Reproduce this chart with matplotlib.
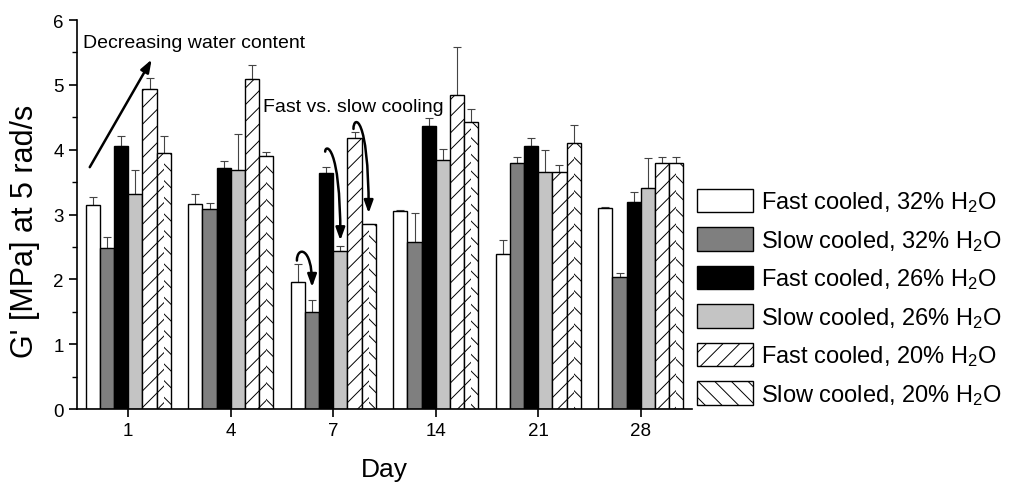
import numpy as np
import matplotlib
matplotlib.use("Agg")
import matplotlib.pyplot as plt
import matplotlib.patches as mpatches
from matplotlib.path import Path

plt.rcParams['font.family'] = ['Liberation Sans', 'DejaVu Sans']
plt.rcParams['mathtext.fontset'] = 'custom'
plt.rcParams['mathtext.rm'] = 'Liberation Sans'
plt.rcParams['mathtext.it'] = 'Liberation Sans:italic'
plt.rcParams['hatch.linewidth'] = 0.7

# data
days = ['1', '4', '7', '14', '21', '28']
labels = [r'Fast cooled, 32% H$_2$O', r'Slow cooled, 32% H$_2$O',
          r'Fast cooled, 26% H$_2$O', r'Slow cooled, 26% H$_2$O',
          r'Fast cooled, 20% H$_2$O', r'Slow cooled, 20% H$_2$O']

fast32 = [3.14, 3.16, 1.96, 3.06, 2.39, 3.10]
slow32 = [2.49, 3.08, 1.49, 2.58, 3.79, 2.03]
fast26 = [4.06, 3.71, 3.64, 4.36, 4.06, 3.20]
slow26 = [3.31, 3.68, 2.43, 3.84, 3.65, 3.41]
fast20 = [4.93, 5.09, 4.18, 4.84, 3.65, 3.79]
slow20 = [3.95, 3.91, 2.85, 4.43, 4.11, 3.79]

fast32_err = [0.13, 0.15, 0.28, 0.01, 0.21, 0.01]
slow32_err = [0.16, 0.09, 0.19, 0.44, 0.09, 0.07]
fast26_err = [0.15, 0.11, 0.09, 0.13, 0.12, 0.14]
slow26_err = [0.38, 0.56, 0.09, 0.17, 0.35, 0.46]
fast20_err = [0.18, 0.22, 0.10, 0.74, 0.12, 0.09]
slow20_err = [0.26, 0.06, 0.01, 0.19, 0.27, 0.09]

values = [fast32, slow32, fast26, slow26, fast20, slow20]
errors = [fast32_err, slow32_err, fast26_err, slow26_err, fast20_err, slow20_err]
colors = ['white', '#7f7f7f', 'black', '#c4c4c4', 'white', 'white']
hatches = [None, None, None, None, '//', '\\\\']

fig = plt.figure(figsize=(10.11, 4.85), dpi=100)
ax = fig.add_axes([0.0762, 0.1546, 0.6083, 0.8021])

x = np.arange(len(days))
w = 0.138
centers = []
for i in range(6):
    xi = x + (i - 2.5) * w
    centers.append(xi)
    if i == 5:
        # herringbone look: two hatched halves inside one outlined bar
        ax.bar(xi - w / 2, values[i], w / 2, align='edge', color='white',
               edgecolor='black', linewidth=0, hatch='//', zorder=2)
        ax.bar(xi, values[i], w / 2, align='edge', color='white',
               edgecolor='black', linewidth=0, hatch='\\\\', zorder=2)
        ax.bar(xi, values[i], w, fill=False, edgecolor='black',
               linewidth=1.0, zorder=3)
    else:
        ax.bar(xi, values[i], w, color=colors[i], edgecolor='black',
               linewidth=1.0, hatch=hatches[i], zorder=2)
    ax.errorbar(xi, values[i], yerr=[np.zeros(6), errors[i]], fmt='none',
                ecolor='#444444', elinewidth=0.8, capsize=3, capthick=0.8,
                zorder=1)

ax.set_xlim(-0.5, 5.5)
ax.set_ylim(0, 6)
ax.set_xticks(x)
ax.set_xticklabels(days)
ax.set_yticks(range(7))
ax.set_yticks(np.arange(0.5, 6, 1), minor=True)
ax.spines['top'].set_visible(False)
ax.spines['right'].set_visible(False)
for s in ['left', 'bottom']:
    ax.spines[s].set_linewidth(1.2)
ax.tick_params(axis='both', which='major', direction='out', length=6,
               width=1.2, labelsize=13.5)
ax.tick_params(axis='y', which='minor', direction='out', length=3.5, width=1.0)
ax.set_xlabel('Day', fontsize=19, labelpad=13)
ax.set_ylabel("G' [MPa] at 5 rad/s", fontsize=22)
ax.yaxis.set_label_coords(-0.06, 0.458)

# annotations
ax.text(-0.444, 5.65, 'Decreasing water content', fontsize=14,
        ha='left', va='center')
ax.annotate('', xy=(0.228, 5.39), xytext=(-0.376, 3.73),
            arrowprops=dict(arrowstyle='-|>,head_length=0.5,head_width=0.18',
                            lw=1.8, color='black', shrinkA=0, shrinkB=0,
                            mutation_scale=15))
ax.text(1.31, 4.66, 'Fast vs. slow cooling', fontsize=14,
        ha='left', va='center')

# curved arrows on day 7: (fast series, slow series, start y, lift, end y)
curves = [(0, 1, 2.29, 0.22, 1.88), (2, 3, 3.97, 0.12, 2.60),
          (4, 5, 4.32, 0.22, 3.02)]
for a, b, y0, k, y1 in curves:
    x0 = centers[a][2] - 0.01
    x1 = centers[b][2]
    p = Path([(x0, y0), (x0, y0 + k), (x1, y0 + k), (x1, y1)],
             [Path.MOVETO, Path.CURVE4, Path.CURVE4, Path.CURVE4])
    arr = mpatches.FancyArrowPatch(path=p,
                                   arrowstyle='-|>,head_length=0.5,head_width=0.18',
                                   mutation_scale=15, lw=1.8, color='black',
                                   zorder=5)
    ax.add_patch(arr)

handles = [mpatches.Patch(facecolor=colors[i], edgecolor='black',
                          linewidth=1.0, hatch=hatches[i], label=labels[i])
           for i in range(6)]
fig.legend(handles=handles, loc='upper left', bbox_to_anchor=(0.6775, 0.633),
           frameon=False, fontsize=17, handlelength=2.37, handleheight=1.14,
           labelspacing=0.55, handletextpad=0.35, borderpad=0)

fig.savefig('out.png', dpi=100)
